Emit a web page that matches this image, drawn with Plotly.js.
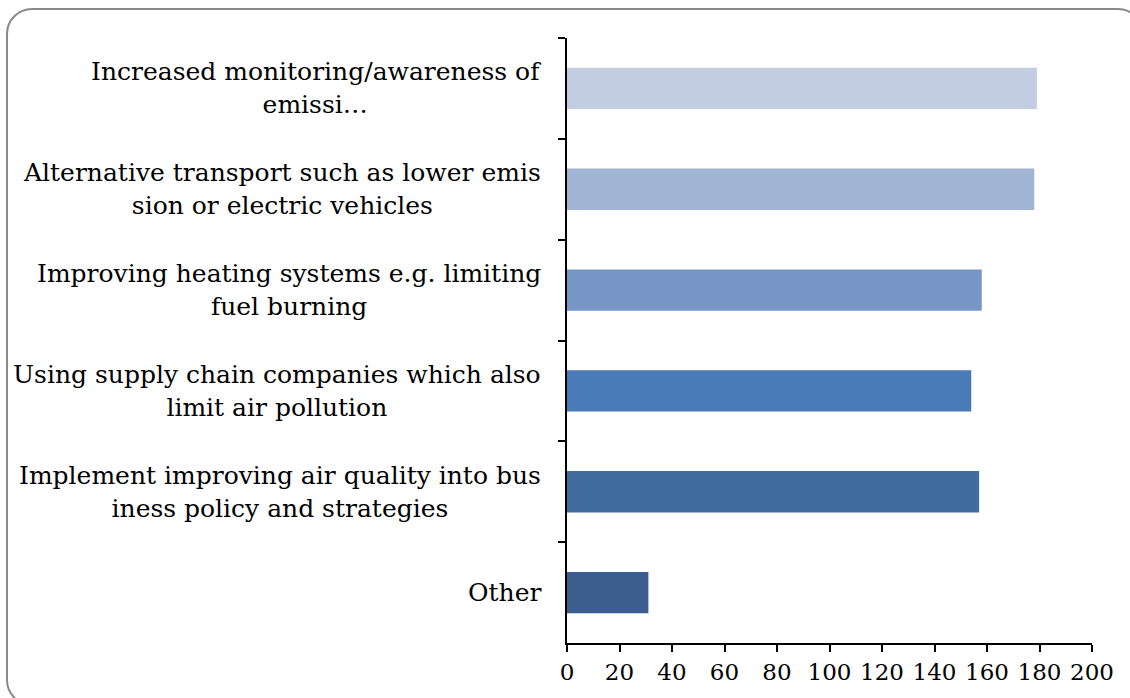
<!DOCTYPE html>
<html>
<head>
<meta charset="utf-8">
<script src="https://cdn.plot.ly/plotly-3.0.1.min.js"></script>
<style>
  html, body { margin: 0; padding: 0; width: 1130px; height: 698px; overflow: hidden; background: #fff; }
  #frame { position: absolute; left: 6px; top: 8px; width: 1134px; height: 694px; border: 2px solid #8a8a8a; border-radius: 26px; }
  #chart { position: absolute; left: 0; top: 0; width: 1130px; height: 698px; }
</style>
</head>
<body>
<div id="frame"></div>
<div id="chart"></div>
<script>
const categories = [
  "Increased monitoring/awareness of<br>emissi…",
  "Alternative transport such as lower emis<br>sion or electric vehicles",
  "Improving heating systems e.g. limiting<br>fuel burning",
  "Using supply chain companies which also<br>limit air pollution",
  "Implement improving air quality into bus<br>iness policy and strategies",
  "Other"
];
const values = [179, 178, 158, 154, 157, 31];
const barColors = ["#c3cee2", "#a2b4d4", "#7596c6", "#4a7bb6", "#416ca0", "#3b5e8e"];
const xTicks = [0, 20, 40, 60, 80, 100, 120, 140, 160, 180, 200];

const trace = {
  type: "bar",
  orientation: "h",
  y: categories,
  x: values,
  marker: { color: barColors },
  hoverinfo: "x+y"
};

const labelAnnotations = categories.map(c => ({
  xref: "paper",
  yref: "y",
  x: 0,
  y: c,
  text: c,
  showarrow: false,
  xanchor: "right",
  yanchor: "middle",
  align: "center",
  xshift: -24,
  font: { family: "DejaVu Serif", size: 25, color: "#000" }
}));

const layout = {
  width: 1130,
  height: 698,
  paper_bgcolor: "rgba(0,0,0,0)",
  plot_bgcolor: "rgba(0,0,0,0)",
  margin: { l: 567, r: 38, t: 38, b: 55 },
  bargap: 0.59,
  showlegend: false,
  font: { family: "DejaVu Serif", size: 24, color: "#000" },
  annotations: labelAnnotations,
  xaxis: {
    range: [0, 200],
    tickvals: xTicks,
    ticktext: xTicks.map(String),
    showgrid: false,
    zeroline: false,
    showline: true,
    linecolor: "#000",
    linewidth: 2,
    ticks: "outside",
    ticklen: 7,
    tickwidth: 2,
    tickcolor: "#000",
    tickfont: { family: "DejaVu Serif", size: 23, color: "#000" }
  },
  yaxis: {
    type: "category",
    categoryorder: "array",
    categoryarray: categories,
    autorange: "reversed",
    showgrid: false,
    zeroline: false,
    showline: true,
    linecolor: "#000",
    linewidth: 2,
    ticks: "outside",
    tickson: "boundaries",
    ticklen: 7,
    tickwidth: 2,
    tickcolor: "#000",
    showticklabels: false
  }
};

Plotly.newPlot("chart", [trace], layout, { displayModeBar: false, staticPlot: true });
</script>
</body>
</html>
